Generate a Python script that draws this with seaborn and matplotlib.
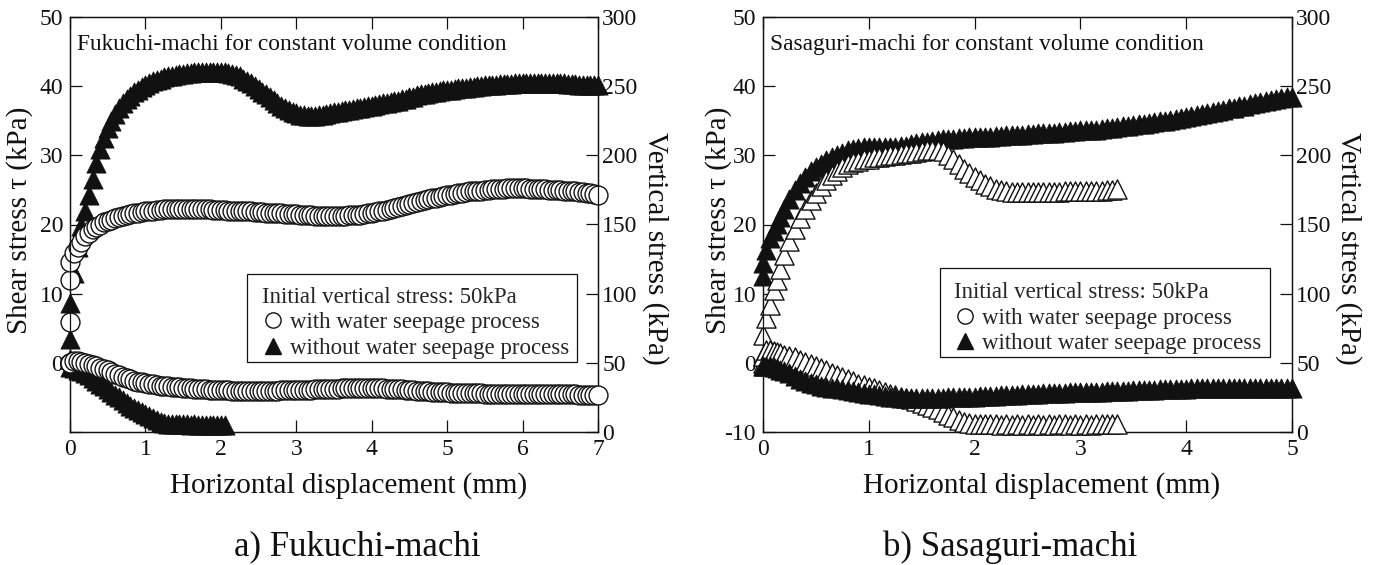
import matplotlib
matplotlib.use("Agg")
import matplotlib.pyplot as plt
from matplotlib.lines import Line2D
from matplotlib.patches import Rectangle
import seaborn as sns

# ---------------- a) Fukuchi-machi ----------------
# with water seepage process: shear stress and vertical stress read at the same displacements
disp_a_wet = [0, 0, 0, 0, 0.05, 0.1, 0.15,
              0.2, 0.25, 0.3, 0.35, 0.4, 0.45, 0.5, 0.55, 0.6, 0.65,
              0.7, 0.75, 0.8, 0.85, 0.9, 0.95, 1.0, 1.05, 1.1, 1.15,
              1.2, 1.25, 1.3, 1.35, 1.4, 1.45, 1.5, 1.55, 1.6, 1.65,
              1.7, 1.75, 1.8, 1.85, 1.9, 1.95, 2.0, 2.05, 2.1, 2.15,
              2.2, 2.25, 2.3, 2.35, 2.4, 2.45, 2.5, 2.55, 2.6, 2.65,
              2.7, 2.75, 2.8, 2.85, 2.9, 2.95, 3.0, 3.05, 3.1, 3.15,
              3.2, 3.25, 3.3, 3.35, 3.4, 3.45, 3.5, 3.55, 3.6, 3.65,
              3.7, 3.75, 3.8, 3.85, 3.9, 3.95, 4.0, 4.05, 4.1, 4.15,
              4.2, 4.25, 4.3, 4.35, 4.4, 4.45, 4.5, 4.55, 4.6, 4.65,
              4.7, 4.75, 4.8, 4.85, 4.9, 4.95, 5.0, 5.05, 5.1, 5.15,
              5.2, 5.25, 5.3, 5.35, 5.4, 5.45, 5.5, 5.55, 5.6, 5.65,
              5.7, 5.75, 5.8, 5.85, 5.9, 5.95, 6.0, 6.05, 6.1, 6.15,
              6.2, 6.25, 6.3, 6.35, 6.4, 6.45, 6.5, 6.55, 6.6, 6.65,
              6.7, 6.75, 6.8, 6.85, 6.9, 6.95, 7.0]
tau_a_wet = [0.0, 5.9, 12.0, 14.6, 15.9, 16.8, 17.5,
             18.3, 18.8, 19.3, 19.7, 20.0, 20.3, 20.5, 20.7, 20.9, 21.1,
             21.2, 21.4, 21.5, 21.6, 21.7, 21.8, 21.9, 22.0, 22.0, 22.1,
             22.1, 22.2, 22.2, 22.2, 22.2, 22.3, 22.3, 22.3, 22.3, 22.3,
             22.2, 22.2, 22.2, 22.2, 22.1, 22.1, 22.1, 22.1, 22.0, 22.0,
             22.0, 22.0, 21.9, 21.9, 21.9, 21.8, 21.8, 21.8, 21.7, 21.7,
             21.7, 21.6, 21.6, 21.5, 21.5, 21.5, 21.5, 21.4, 21.4, 21.4,
             21.4, 21.3, 21.3, 21.3, 21.3, 21.3, 21.3, 21.3, 21.3, 21.3,
             21.4, 21.4, 21.4, 21.4, 21.5, 21.6, 21.7, 21.8, 21.9, 22.0,
             22.1, 22.2, 22.4, 22.5, 22.7, 22.8, 23.0, 23.1, 23.3, 23.4,
             23.6, 23.7, 23.8, 23.9, 24.0, 24.1, 24.2, 24.3, 24.4, 24.5,
             24.6, 24.7, 24.8, 24.8, 24.9, 24.9, 25.0, 25.0, 25.1, 25.1,
             25.2, 25.2, 25.3, 25.3, 25.3, 25.3, 25.3, 25.3, 25.2, 25.2,
             25.2, 25.1, 25.1, 25.0, 25.0, 25.0, 25.0, 24.9, 24.9, 24.8,
             24.8, 24.7, 24.7, 24.6, 24.5, 24.4, 24.3]
sv_a_wet = [50, 50, 50, 50, 51, 51, 50.5,
            50.0, 49.3, 48.5, 47.5, 46.5, 45.5, 44.5, 43.2, 42.0, 41.0,
            40.0, 39.0, 38.0, 37.2, 36.5, 36.0, 35.5, 35.0, 34.5, 34.0,
            33.5, 33.2, 33.0, 32.7, 32.5, 32.2, 32.0, 31.7, 31.5, 31.2,
            31.0, 30.9, 30.8, 30.6, 30.5, 30.4, 30.3, 30.2, 30.1, 30.0,
            30.0, 30.0, 30.0, 30.0, 30.0, 30.0, 30.0, 30.0, 30.0, 30.0,
            30.0, 30.0, 30.1, 30.1, 30.2, 30.2, 30.3, 30.4, 30.5, 30.6,
            30.7, 30.8, 30.9, 31.0, 31.1, 31.2, 31.3, 31.4, 31.5, 31.5,
            31.6, 31.6, 31.7, 31.7, 31.7, 31.7, 31.7, 31.6, 31.6, 31.5,
            31.4, 31.2, 31.1, 30.9, 30.8, 30.6, 30.4, 30.2, 30.0, 29.8,
            29.6, 29.4, 29.2, 29.0, 28.9, 28.7, 28.6, 28.5, 28.4, 28.3,
            28.2, 28.1, 28.0, 28.0, 27.9, 27.9, 27.8, 27.8, 27.7, 27.7,
            27.6, 27.6, 27.5, 27.5, 27.4, 27.4, 27.4, 27.4, 27.3, 27.3,
            27.3, 27.3, 27.3, 27.3, 27.2, 27.2, 27.2, 27.2, 27.2, 27.2,
            27.2, 27.1, 27.1, 27.1, 27.1, 27.1, 27.1]

# without water seepage process
disp_a_dry = [0, 0, 0, 0.05, 0.1, 0.15, 0.2, 0.25, 0.3, 0.35, 0.4, 0.45, 0.5,
              0.55, 0.6, 0.65, 0.7, 0.75, 0.8, 0.85, 0.9, 0.95, 1.0,
              1.05, 1.1, 1.15, 1.2, 1.25, 1.3, 1.35, 1.4, 1.45, 1.5,
              1.55, 1.6, 1.65, 1.7, 1.75, 1.8, 1.85, 1.9, 1.95, 2.0,
              2.05, 2.1, 2.15, 2.2, 2.25, 2.3, 2.35, 2.4, 2.45, 2.5,
              2.55, 2.6, 2.65, 2.7, 2.75, 2.8, 2.85, 2.9, 2.95, 3.0,
              3.05, 3.1, 3.15, 3.2, 3.25, 3.3, 3.35, 3.4, 3.45, 3.5,
              3.55, 3.6, 3.65, 3.7, 3.75, 3.8, 3.85, 3.9, 3.95, 4.0,
              4.05, 4.1, 4.15, 4.2, 4.25, 4.3, 4.35, 4.4, 4.45, 4.5,
              4.55, 4.6, 4.65, 4.7, 4.75, 4.8, 4.85, 4.9, 4.95, 5.0,
              5.05, 5.1, 5.15, 5.2, 5.25, 5.3, 5.35, 5.4, 5.45, 5.5,
              5.55, 5.6, 5.65, 5.7, 5.75, 5.8, 5.85, 5.9, 5.95, 6.0,
              6.05, 6.1, 6.15, 6.2, 6.25, 6.3, 6.35, 6.4, 6.45, 6.5,
              6.55, 6.6, 6.65, 6.7, 6.75, 6.8, 6.85, 6.9, 6.95, 7.0]
tau_a_dry = [0.5, 3.4, 8.6, 13.0, 16.7, 19.8, 22.0, 24.3, 26.6, 28.9, 30.9, 32.5, 33.9,
             35.0, 36.0, 36.8, 37.5, 38.1, 38.6, 39.1, 39.5, 39.9, 40.2,
             40.5, 40.7, 40.9, 41.1, 41.3, 41.4, 41.5, 41.6, 41.7, 41.8,
             41.9, 41.9, 42.0, 42.0, 42.0, 42.0, 42.0, 42.0, 42.0, 42.0,
             42.0, 41.9, 41.8, 41.6, 41.4, 41.1, 40.8, 40.4, 40.0, 39.6,
             39.2, 38.8, 38.4, 38.0, 37.6, 37.2, 36.9, 36.6, 36.3, 36.1,
             35.9, 35.8, 35.7, 35.7, 35.7, 35.8, 35.9, 36.0, 36.1, 36.2,
             36.3, 36.4, 36.5, 36.6, 36.7, 36.8, 36.9, 37.0, 37.1, 37.2,
             37.3, 37.4, 37.5, 37.6, 37.7, 37.8, 37.9, 38.1, 38.2, 38.4,
             38.5, 38.7, 38.8, 38.9, 39.0, 39.1, 39.2, 39.3, 39.4, 39.5,
             39.5, 39.6, 39.7, 39.8, 39.8, 39.9, 39.9, 40.0, 40.0, 40.1,
             40.1, 40.2, 40.2, 40.3, 40.3, 40.3, 40.3, 40.4, 40.4, 40.4,
             40.5, 40.5, 40.5, 40.5, 40.5, 40.5, 40.5, 40.4, 40.4, 40.4,
             40.4, 40.3, 40.3, 40.3, 40.2, 40.2, 40.2, 40.2, 40.1, 40.1]
disp_a_dry_v = [0, 0.05, 0.1, 0.15, 0.2, 0.25, 0.3, 0.35, 0.4, 0.45,
                0.5, 0.55, 0.6, 0.65, 0.7, 0.75, 0.8, 0.85, 0.9, 0.95,
                1.0, 1.05, 1.1, 1.15, 1.2, 1.25, 1.3, 1.35, 1.4, 1.45,
                1.5, 1.55, 1.6, 1.65, 1.7, 1.75, 1.8, 1.85, 1.9, 1.95, 2.0, 2.05]
sv_a_dry = [47, 46, 45, 44, 42.5, 41, 39, 37, 35, 33,
            31, 29, 27, 25, 23, 21, 19, 17.5, 16, 14.5,
            13, 11.5, 10, 8.5, 7.5, 6.5, 6, 5.5, 5.5, 5.5,
            5.8, 5.5, 5.3, 5.5, 5.2, 5.4, 5.2, 5.3, 5.1, 5.3, 5.2, 5.4]

# ---------------- b) Sasaguri-machi ----------------
disp_b_wet = [0, 0, 0.03, 0.07, 0.1, 0.13, 0.16,
              0.2, 0.25, 0.3, 0.35, 0.4, 0.45, 0.5, 0.55, 0.6, 0.65,
              0.7, 0.75, 0.8, 0.85, 0.9, 0.95, 1.0, 1.05, 1.1, 1.15,
              1.2, 1.25, 1.3, 1.35, 1.4, 1.45, 1.5, 1.55, 1.6, 1.65,
              1.7, 1.75, 1.8, 1.85, 1.9, 1.95, 2.0, 2.05, 2.1, 2.15,
              2.2, 2.25, 2.3, 2.35, 2.4, 2.45, 2.5, 2.55, 2.6, 2.65,
              2.7, 2.75, 2.8, 2.85, 2.9, 2.95, 3.0, 3.05, 3.1, 3.15,
              3.2, 3.25, 3.3, 3.35]
tau_b_wet = [1.0, 4.0, 6.5, 8.4, 10.5, 12.0, 13.6,
             15.6, 17.6, 19.4, 20.9, 22.2, 23.5, 24.6, 25.5, 26.4, 27.2,
             27.8, 28.3, 28.7, 29.0, 29.2, 29.4, 29.5, 29.7, 29.8, 29.9,
             30.0, 30.1, 30.2, 30.3, 30.4, 30.5, 30.6, 30.7, 30.8, 30.8,
             30.6, 30.1, 29.4, 28.7, 28.0, 27.4, 26.9, 26.4, 25.9, 25.5,
             25.2, 25.0, 24.8, 24.7, 24.7, 24.7, 24.7, 24.7, 24.7, 24.7,
             24.7, 24.7, 24.7, 24.8, 24.8, 24.8, 24.8, 24.8, 24.9, 24.9,
             24.9, 25.0, 25.0, 25.1]
sv_b_wet = [50, 55, 59, 59, 58.5, 58, 57,
            56, 55, 54, 52, 50.5, 49, 47.5, 46, 44.5, 43,
            41.5, 40, 38.5, 37, 35, 33.8, 32.5, 31.5, 30.3, 29,
            27.8, 26.6, 25.5, 24.5, 23.5, 22.5, 21, 19.5, 18, 16.5,
            14.5, 12.5, 10.5, 9, 7.5, 6.5, 6, 5.8, 5.6, 5.5,
            5.5, 5.4, 5.5, 5.3, 5.5, 5.4, 5.6, 5.4, 5.5, 5.3,
            5.5, 5.4, 5.6, 5.5, 5.4, 5.5, 5.3, 5.5, 5.4, 5.5,
            5.5, 5.6, 5.7, 5.8]

disp_b_dry = [0, 0, 0.03, 0.07, 0.1, 0.13, 0.16,
              0.2, 0.25, 0.3, 0.35, 0.4, 0.45, 0.5, 0.55, 0.6, 0.65,
              0.7, 0.75, 0.8, 0.85, 0.9, 0.95, 1.0, 1.05, 1.1, 1.15,
              1.2, 1.25, 1.3, 1.35, 1.4, 1.45, 1.5, 1.55, 1.6, 1.65,
              1.7, 1.75, 1.8, 1.85, 1.9, 1.95, 2.0, 2.05, 2.1, 2.15,
              2.2, 2.25, 2.3, 2.35, 2.4, 2.45, 2.5, 2.55, 2.6, 2.65,
              2.7, 2.75, 2.8, 2.85, 2.9, 2.95, 3.0, 3.05, 3.1, 3.15,
              3.2, 3.25, 3.3, 3.35, 3.4, 3.45, 3.5, 3.55, 3.6, 3.65,
              3.7, 3.75, 3.8, 3.85, 3.9, 3.95, 4.0, 4.05, 4.1, 4.15,
              4.2, 4.25, 4.3, 4.35, 4.4, 4.45, 4.5, 4.55, 4.6, 4.65,
              4.7, 4.75, 4.8, 4.85, 4.9, 4.95, 5.0]
tau_b_dry = [12.5, 14.4, 16.3, 18.0, 19.0, 20.1, 21.1,
             22.2, 23.7, 25.0, 26.0, 26.9, 27.7, 28.3, 28.8, 29.3, 29.7,
             30.1, 30.4, 30.7, 30.9, 31.1, 31.2, 31.2, 31.2, 31.2, 31.2,
             31.2, 31.2, 31.3, 31.4, 31.6, 31.8, 31.9, 32.0, 32.1, 32.2,
             32.3, 32.4, 32.4, 32.5, 32.5, 32.6, 32.6, 32.6, 32.7, 32.7,
             32.8, 32.8, 32.9, 32.9, 33.0, 33.0, 33.1, 33.1, 33.2, 33.2,
             33.3, 33.3, 33.4, 33.4, 33.5, 33.5, 33.6, 33.6, 33.7, 33.7,
             33.8, 33.9, 34.0, 34.1, 34.2, 34.3, 34.4, 34.5, 34.6, 34.7,
             34.8, 34.9, 35.0, 35.1, 35.2, 35.4, 35.5, 35.7, 35.8, 36.0,
             36.1, 36.3, 36.4, 36.6, 36.8, 36.9, 37.1, 37.2, 37.4, 37.5,
             37.7, 37.8, 38.0, 38.1, 38.3, 38.4, 38.5]
sv_b_dry = [48, 48, 48, 47.5, 47, 46, 45,
            44, 42.5, 40.5, 38.5, 36.8, 35.5, 34.5, 33.5, 32.8, 32.1,
            31.5, 30.8, 30.2, 29.6, 29.0, 28.4, 27.8, 27.2, 26.6, 26.0,
            25.5, 25.1, 24.8, 24.6, 24.5, 24.5, 24.5, 24.6, 24.7, 24.8,
            24.9, 25.0, 25.1, 25.2, 25.3, 25.4, 25.5, 25.7, 25.9, 26.1,
            26.3, 26.5, 26.7, 26.9, 27.1, 27.3, 27.5, 27.7, 27.8, 28.0,
            28.1, 28.2, 28.4, 28.5, 28.6, 28.7, 28.8, 28.9, 29.0, 29.1,
            29.2, 29.4, 29.5, 29.7, 29.8, 30.0, 30.1, 30.3, 30.4, 30.6,
            30.7, 30.9, 31.0, 31.1, 31.2, 31.3, 31.4, 31.5, 31.6, 31.7,
            31.7, 31.8, 31.8, 31.9, 31.9, 31.9, 32.0, 32.0, 32.0, 32.0,
            32.0, 32.0, 32.0, 32.0, 32.0, 32.0, 32.0]

tau_ticks = [-10, 0, 10, 20, 30, 40, 50]
sv_ticks = [0, 50, 100, 150, 200, 250, 300]

sns.set_theme(style="ticks")
plt.rcParams["font.family"] = ["Liberation Serif", "DejaVu Serif"]

INK = "#111111"
TICK_FS = 17
LABEL_FS = 21
NOTE_FS = 16.8
LEGEND_FS = 16.5
CAPTION_FS = 25

W, H = 1374, 565
fig = plt.figure(figsize=(W / 100, H / 100), dpi=100)


def px_rect(x0, x1, ytop, ybot):
    return [x0 / W, 1 - ybot / H, (x1 - x0) / W, (ybot - ytop) / H]


OPEN_CIRCLE = dict(marker="o", s=185, color="white", edgecolor=INK, linewidth=1.0)
OPEN_TRI = dict(marker="^", s=190, color="white", edgecolor=INK, linewidth=1.0)
FILL_TRI = dict(marker="^", s=190, color=INK, edgecolor=INK, linewidth=0.6)


def draw(ax, x, y, style):
    sns.scatterplot(x=x, y=y, ax=ax, legend=False, clip_on=False, zorder=3, **style)


def dress(ax, ax2, xmax, tau_labels, note, label_x, ylab_x, ylab2_x, box, legend_anchor):
    ax.set_xlim(0, xmax)
    ax.set_ylim(-10, 50)
    ax2.set_ylim(0, 300)
    ax.set_xticks(range(0, xmax + 1))
    ax.set_yticks(tau_ticks)
    ax.set_yticklabels(tau_labels)
    ax2.set_yticks(sv_ticks)
    ax.tick_params(axis="x", direction="in", length=8.4, width=0.9, top=True, bottom=True,
                   labelsize=TICK_FS, pad=5, colors=INK)
    ax.tick_params(axis="y", direction="in", length=8.4, width=0.9, left=True, right=False,
                   labelsize=TICK_FS, pad=5, colors=INK)
    ax2.tick_params(axis="y", direction="in", length=8.4, width=0.9, right=True, left=False,
                    labelsize=TICK_FS, pad=3, colors=INK)
    for a in (ax, ax2):
        for sp in a.spines.values():
            sp.set_color(INK)
            sp.set_linewidth(0.9)
        a.set_facecolor("none")
    ax.set_xlabel("Horizontal displacement (mm)", fontsize=LABEL_FS, color=INK, va="center")
    ax.xaxis.set_label_coords(label_x, -0.128)
    ax.set_ylabel("Shear stress τ (kPa)", fontsize=LABEL_FS, color=INK, va="center")
    ax.yaxis.set_label_coords(ylab_x, 0.51)
    ax2.set_ylabel("Vertical stress (kPa)", fontsize=LABEL_FS, color=INK,
                   rotation=-90, va="center", ha="center")
    ax2.yaxis.set_label_coords(ylab2_x, 0.443)
    ax2.text(0.013, 0.933, note, transform=ax.transAxes, fontsize=NOTE_FS,
             ha="left", va="center", color=INK)

    # legend: framed box with the test condition on the first line
    x0, x1, y0, y1 = box
    frame = Rectangle((x0, y0), x1 - x0, y1 - y0, transform=ax2.transAxes,
                      facecolor="white", edgecolor=INK, linewidth=0.9, zorder=8)
    ax2.add_patch(frame)
    handles = [
        Line2D([], [], linestyle="none", marker="o", markersize=11, markerfacecolor="white",
               markeredgecolor=INK, markeredgewidth=1.0),
        Line2D([], [], linestyle="none", marker="^", markersize=11, markerfacecolor=INK,
               markeredgecolor=INK),
    ]
    leg = ax2.legend(handles, ["with water seepage process", "without water seepage process"],
                     title="Initial vertical stress: 50kPa", alignment="left",
                     loc="upper left", bbox_to_anchor=legend_anchor, borderaxespad=0,
                     fontsize=LEGEND_FS, title_fontsize=LEGEND_FS, frameon=False,
                     borderpad=0, labelspacing=0.2, handlelength=0.9, handletextpad=0.3)
    leg.set_zorder(10)


# ---- panel a ----
axA = fig.add_axes(px_rect(70, 598, 17, 432))
axA2 = axA.twinx()
draw(axA, disp_a_dry, tau_a_dry, FILL_TRI)
draw(axA, disp_a_wet, tau_a_wet, OPEN_CIRCLE)
draw(axA2, disp_a_dry_v, sv_a_dry, FILL_TRI)
draw(axA2, disp_a_wet, sv_a_wet, OPEN_CIRCLE)
dress(axA, axA2, 7, ["", "0", "10", "20", "30", "40", "50"],
      "Fukuchi-machi for constant volume condition",
      0.528, -0.0947, 1.108, (0.335, 0.960, 0.169, 0.381), (0.364, 0.350))

# ---- panel b ----
axB = fig.add_axes(px_rect(763, 1292, 17, 432))
axB2 = axB.twinx()
draw(axB, disp_b_dry, tau_b_dry, FILL_TRI)
draw(axB, disp_b_wet, tau_b_wet, OPEN_TRI)
draw(axB2, disp_b_wet, sv_b_wet, OPEN_TRI)
draw(axB2, disp_b_dry, sv_b_dry, FILL_TRI)
dress(axB, axB2, 5, ["-10", "0", "10", "20", "30", "40", "50"],
      "Sasaguri-machi for constant volume condition",
      0.527, -0.085, 1.106, (0.335, 0.958, 0.181, 0.395), (0.362, 0.361))

fig.text(357 / W, 1 - 547 / H, "a) Fukuchi-machi", ha="center", va="center",
         fontsize=CAPTION_FS, color=INK)
fig.text(1010 / W, 1 - 547 / H, "b) Sasaguri-machi", ha="center", va="center",
         fontsize=CAPTION_FS, color=INK)

fig.savefig("out.png", dpi=100, facecolor="white")
